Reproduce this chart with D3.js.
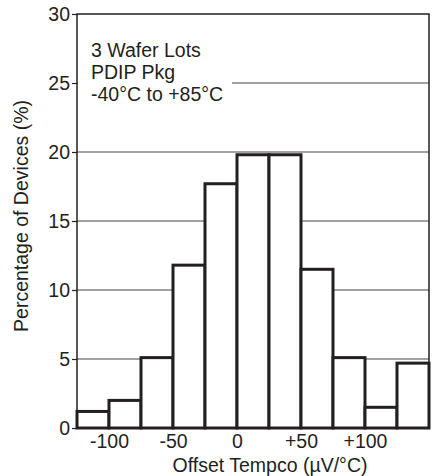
<!DOCTYPE html>
<html>
<head>
<meta charset="utf-8">
<script src="https://cdn.jsdelivr.net/npm/d3@7"></script>
<style>
  body { margin: 0; background: #fff; }
  text { font-family: "Liberation Sans", Arial, sans-serif; fill: #231f20; }
</style>
</head>
<body>
<div id="chart"></div>
<script>
// histogram bins (uV/C), lower edge of each 25 uV/C bin
var binStarts = [-125, -100, -75, -50, -25, 0, 25, 50, 75, 100, 125];
var binWidth = 25;
// percentage of devices per bin
var percents = [1.2, 2.0, 5.1, 11.8, 17.7, 19.8, 19.8, 11.5, 5.1, 1.5, 4.7];
var yTicks = [0, 5, 10, 15, 20, 25, 30];
var xTicks = [-100, -50, 0, 50, 100];
var xTickLabels = ["-100", "-50", "0", "+50", "+100"];
var noteLines = ["3 Wafer Lots", "PDIP Pkg", "-40\u00b0C to +85\u00b0C"];

var W = 438, H = 476;
var margin = {top: 14, right: 9, bottom: 48, left: 77};
var width = W - margin.left - margin.right,
    height = H - margin.top - margin.bottom;
var fontSize = "19.5px";

var x = d3.scaleLinear().domain([-125, 150]).range([0, width]);
var y = d3.scaleLinear().domain([0, 30]).range([height, 0]);

var svg = d3.select("#chart").append("svg")
    .attr("width", W)
    .attr("height", H)
    .append("g")
    .attr("transform", "translate(" + margin.left + "," + margin.top + ")");

//Gridlines
svg.selectAll(".grid")
    .data(yTicks.filter(function(d) { return d > 0 && d < 30; }))
    .enter().append("line")
    .attr("x1", 0).attr("x2", width)
    .attr("y1", function(d) { return y(d); })
    .attr("y2", function(d) { return y(d); })
    .style("stroke", "#444")
    .style("stroke-width", 1.2);

//White box behind the note, covers the 25 gridline
svg.append("rect")
    .attr("x", 1).attr("y", 20)
    .attr("width", 154).attr("height", 74)
    .style("fill", "#fff");

svg.selectAll(".note")
    .data(noteLines)
    .enter().append("text")
    .attr("x", 14)
    .attr("y", function(d, i) { return 43 + i * 22; })
    .style("font-size", fontSize)
    .text(function(d) { return d; });

//Frame
svg.append("rect")
    .attr("x", 0).attr("y", 0)
    .attr("width", width).attr("height", height)
    .style("fill", "none")
    .style("stroke", "#231f20")
    .style("stroke-width", 1.5);

//Bars
svg.selectAll(".bar")
    .data(binStarts)
    .enter().append("rect")
    .attr("x", function(d) { return x(d); })
    .attr("width", function(d) { return x(d + binWidth) - x(d); })
    .attr("y", function(d, i) { return y(percents[i]); })
    .attr("height", function(d, i) { return y(0) - y(percents[i]); })
    .style("fill", "#fff")
    .style("stroke", "#231f20")
    .style("stroke-width", 3);

//Y axis
var yAxis = svg.append("g")
    .call(d3.axisLeft(y).tickValues(yTicks).tickSize(5).tickPadding(2));
yAxis.select(".domain").remove();
yAxis.selectAll("line").style("stroke", "#231f20").style("stroke-width", 1.2);
yAxis.selectAll("text")
    .style("font-size", fontSize)
    .style("font-family", "Liberation Sans, Arial, sans-serif")
    .attr("fill", "#231f20");

//X axis
var xAxis = svg.append("g")
    .attr("transform", "translate(0," + height + ")")
    .call(d3.axisBottom(x).tickValues(xTicks).tickSize(0).tickPadding(6)
        .tickFormat(function(d, i) { return xTickLabels[i]; }));
xAxis.select(".domain").remove();
xAxis.selectAll("text")
    .style("font-size", fontSize)
    .style("font-family", "Liberation Sans, Arial, sans-serif")
    .attr("fill", "#231f20");

//X-axis label
svg.append("text")
    .attr("x", width / 2 + 17)
    .attr("y", height + 44)
    .style("text-anchor", "middle")
    .style("font-size", fontSize)
    .text("Offset Tempco (\u00b5V/\u00b0C)");

//Y-axis label
svg.append("text")
    .attr("transform", "rotate(-90)")
    .attr("x", -202)
    .attr("y", -margin.left + 28)
    .style("text-anchor", "middle")
    .style("font-size", fontSize)
    .text("Percentage of Devices (%)");
</script>
</body>
</html>
